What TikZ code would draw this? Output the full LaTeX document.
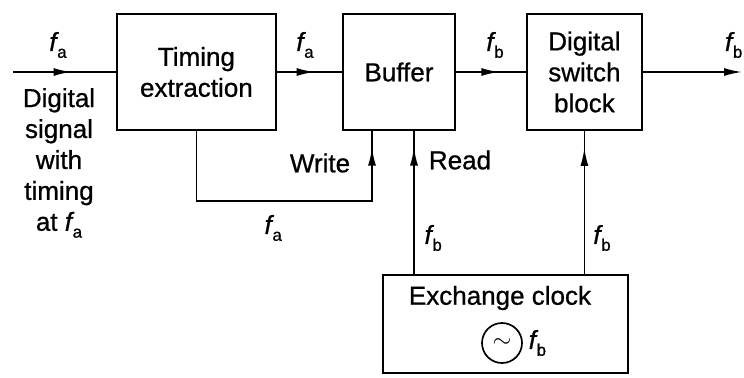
\documentclass[tikz,border=0pt]{standalone}
\usepackage{fontspec}
\setmainfont[FakeBold=0.8]{Liberation Sans}
\usetikzlibrary{arrows.meta,decorations.markings,positioning}
\newcommand{\blkfont}{\fontsize{18.5}{22}\selectfont}
\newcommand{\freq}[1]{\textit{f}\kern-.06em\raisebox{-.5ex}{\fontsize{12}{12}\selectfont #1}}
\tikzset{
 sx box/.style={draw,line width=1.8pt,align=center,font=\blkfont,inner sep=0pt},
 sx line/.style={line width=1.2pt},
 sx label/.style={font=\blkfont,inner sep=1pt},
 sx head/.style={-{Latex[length=4.5mm,width=2mm]}},
 sx mid/.style={postaction={decorate},
   decoration={markings,mark=at position #1 with {\arrow{Latex[length=4.5mm,width=2mm]}}}}
}

\begin{document}
\begin{tikzpicture}
 \useasboundingbox (0,0) rectangle (18.6,9.425);
 \node[sx box,minimum width=3.975cm,minimum height=2.9cm] (tim) at (4.91,7.625) {Timing\\extraction};
 \node[sx box,minimum width=2.8cm,minimum height=2.9cm] (buf) at (9.975,7.625) {Buffer};
 \node[sx box,minimum width=2.875cm,minimum height=2.9cm] (sw) at (14.61,7.625) {Digital\\switch\\block};
 \node[sx box,minimum width=6.125cm,minimum height=2.45cm] (clk) at (12.64,1.325) {};
 \node[sx label] (clktxt) at (12.5,1.975) {Exchange clock};
 \node[circle,draw,line width=1.2pt,minimum size=1cm,inner sep=0pt] (osc) at (12.55,0.85) {\LARGE$\sim$};
 \node[sx label,right=3pt of osc] (fosc) {\freq{b}};

 \coordinate (in) at (0.325,7.625);
 \coordinate (out) at (18.55,7.625);
 \coordinate (wr) at ([xshift=-.675cm]buf.south);
 \coordinate (rd) at ([xshift=.375cm]buf.south);

 \draw[sx line,sx mid=.57] (in) -- (tim.west);
 \draw[sx line,sx mid=.58] (tim.east) -- (buf.west);
 \draw[sx line,sx mid=.62] (buf.east) -- (sw.west);
 \draw[sx line,sx head] (sw.east) -- (out);
 \draw[sx line,sx mid=.948] (tim.south) -- ++(0,-1.75) -| (wr);
 \draw[sx line,sx mid=.886] (clk.north -| rd) -- (rd);
 \draw[sx line,sx mid=.883] (clk.north -| sw.south) -- (sw.south);

 \node[sx label] (fin) at (1.45,8.3) {\freq{a}};
 \node[sx label] (fab) at (7.625,8.3) {\freq{a}};
 \node[sx label] (fbs) at (12.375,8.3) {\freq{b}};
 \node[sx label,anchor=east] (fout) at (18.6,8.3) {\freq{b}};
 \node[sx label,align=center] (sigtxt) at (1.475,5.35) {Digital\\signal\\with\\timing\\at \freq{a}};
 \node[sx label] (wrtxt) at (8.0,5.35) {Write};
 \node[sx label] (rdtxt) at (11.5,5.425) {Read};
 \node[sx label] (fwr) at (6.83,3.725) {\freq{a}};
 \node[sx label] (frd) at (10.83,3.475) {\freq{b}};
 \node[sx label] (fsw) at (15.05,3.475) {\freq{b}};
\end{tikzpicture}
\end{document}
